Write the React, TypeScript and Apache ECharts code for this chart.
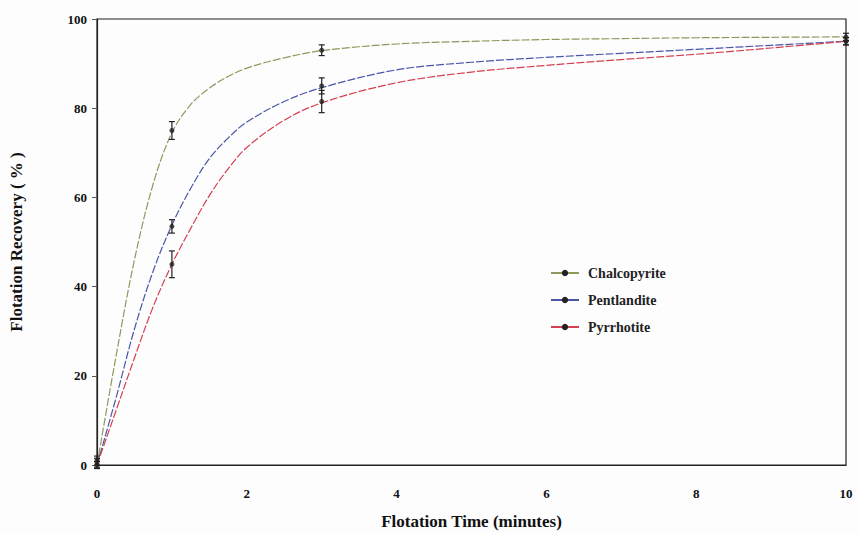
import React, { useEffect, useRef } from "react";
import * as echarts from "echarts";

// Fitted curves
const curveT = [0, 0.25, 0.5, 0.75, 1, 1.25, 1.5, 1.75, 2, 2.5, 3, 4, 5, 6, 7, 8, 9, 10];
const chalcoCurve = [0, 24, 46, 63, 74.5, 80.8, 84.5, 87.1, 89, 91.3, 92.9, 94.4, 95, 95.4, 95.6, 95.8, 95.9, 96];
const pentCurve = [0, 14.8, 30.5, 43.5, 53.8, 62, 68.7, 73.3, 76.9, 81.5, 84.6, 88.6, 90.3, 91.4, 92.3, 93.2, 94.1, 95];
const pyrCurve = [0, 12, 24, 35.5, 45, 53, 60.4, 66.4, 71.2, 77.3, 81.2, 85.7, 88.1, 89.6, 90.9, 92.1, 93.5, 95];

// Measured points with error bars
const timePoints = [0, 1, 3, 10];
const chalcoVal = [1, 75, 93, 96];
const chalcoErr = [1, 2, 1.2, 0.8];
const pentVal = [0.5, 53.5, 85, 95];
const pentErr = [1, 1.5, 1.8, 0.8];
const pyrVal = [0, 45, 81.5, 95];
const pyrErr = [0.8, 3, 2.5, 0.8];

const seriesNames = ["Chalcopyrite", "Pentlandite", "Pyrrhotite"];
const colors = ["#8c9a5c", "#4a56a8", "#d4404e"];
const xTicks = [0, 2, 4, 6, 8, 10];
const yTicks = [0, 20, 40, 60, 80, 100];

const FONT = "'Liberation Serif', 'Times New Roman', serif";

export default function App() {
  const ref = useRef<HTMLDivElement>(null);
  useEffect(() => {
    if (!ref.current) return;
    const chart = echarts.init(ref.current, undefined, { renderer: "svg" });
    const curves = [chalcoCurve, pentCurve, pyrCurve];
    const vals = [chalcoVal, pentVal, pyrVal];
    const errs = [chalcoErr, pentErr, pyrErr];

    const series: any[] = [];
    seriesNames.forEach((name, i) => {
      series.push({
        name,
        type: "line",
        data: curveT.map((t, j) => [t, curves[i][j]]),
        smooth: 0.35,
        symbol: "circle",
        symbolSize: 5,
        showSymbol: false,
        itemStyle: { color: "#222" },
        lineStyle: { color: colors[i], width: 1.2, type: [8, 2] },
        z: 2,
      });
      series.push({
        name: name + "_err",
        type: "custom",
        data: timePoints.map((t, j) => [t, vals[i][j] - errs[i][j], vals[i][j] + errs[i][j]]),
        renderItem: (params: any, api: any) => {
          const lo = api.coord([api.value(0), api.value(1)]);
          const hi = api.coord([api.value(0), api.value(2)]);
          const w = 3;
          const st = { stroke: "#222", lineWidth: 1.2 };
          return {
            type: "group",
            children: [
              { type: "line", shape: { x1: lo[0], y1: lo[1], x2: hi[0], y2: hi[1] }, style: st },
              { type: "line", shape: { x1: lo[0] - w, y1: lo[1], x2: lo[0] + w, y2: lo[1] }, style: st },
              { type: "line", shape: { x1: hi[0] - w, y1: hi[1], x2: hi[0] + w, y2: hi[1] }, style: st },
            ],
          };
        },
        z: 3,
        silent: true,
      });
      series.push({
        name: name + "_pts",
        type: "scatter",
        data: timePoints.map((t, j) => [t, vals[i][j]]),
        symbol: "circle",
        symbolSize: 5,
        itemStyle: { color: "#222" },
        z: 4,
      });
    });

    chart.setOption({
      animation: false,
      backgroundColor: "#fdfdfe",
      grid: {
        left: 97,
        right: 13,
        top: 19,
        bottom: 68,
        outerBoundsMode: "none",
        containLabel: false,
        show: true,
        borderColor: "#222",
        borderWidth: 1.2,
        backgroundColor: "transparent",
      },
      legend: {
        data: seriesNames.map((n) => ({ name: n, itemStyle: { color: "#222" }, lineStyle: { type: "solid" } })),
        orient: "vertical",
        left: 545,
        top: 261,
        itemWidth: 28,
        itemHeight: 8,
        itemGap: 13,
        textStyle: { fontFamily: FONT, fontWeight: "bold", fontSize: 14, color: "#222", padding: [0, 0, 0, 4] },
      },
      xAxis: {
        type: "value",
        min: 0,
        max: 10,
        interval: 2,
        name: "Flotation Time (minutes)",
        nameLocation: "middle",
        nameGap: 48,
        nameTextStyle: { fontFamily: FONT, fontWeight: "bold", fontSize: 17, color: "#111" },
        axisLine: { show: true, lineStyle: { color: "#222", width: 1.2 } },
        axisTick: { show: false },
        splitLine: { show: false },
        axisLabel: {
          fontFamily: FONT,
          fontWeight: "bold",
          fontSize: 13,
          color: "#111",
          margin: 22,
          formatter: (v: number) => (xTicks.includes(v) ? String(v) : ""),
        },
      },
      yAxis: {
        type: "value",
        min: 0,
        max: 100,
        interval: 20,
        name: "Flotation Recovery ( % )",
        nameLocation: "middle",
        nameGap: 72,
        nameTextStyle: { fontFamily: FONT, fontWeight: "bold", fontSize: 17, color: "#111" },
        axisLine: { show: true, lineStyle: { color: "#222", width: 1.2 } },
        axisTick: { show: true, inside: false, length: 5, lineStyle: { color: "#555" } },
        splitLine: { show: false },
        axisLabel: {
          fontFamily: FONT,
          fontWeight: "bold",
          fontSize: 13,
          color: "#111",
          margin: 10,
          formatter: (v: number) => (yTicks.includes(v) ? String(v) : ""),
        },
      },
      series,
    });
    return () => chart.dispose();
  }, []);
  return <div ref={ref} style={{ width: 859, height: 533, position: "absolute", left: 0, top: 0 }} />;
}
